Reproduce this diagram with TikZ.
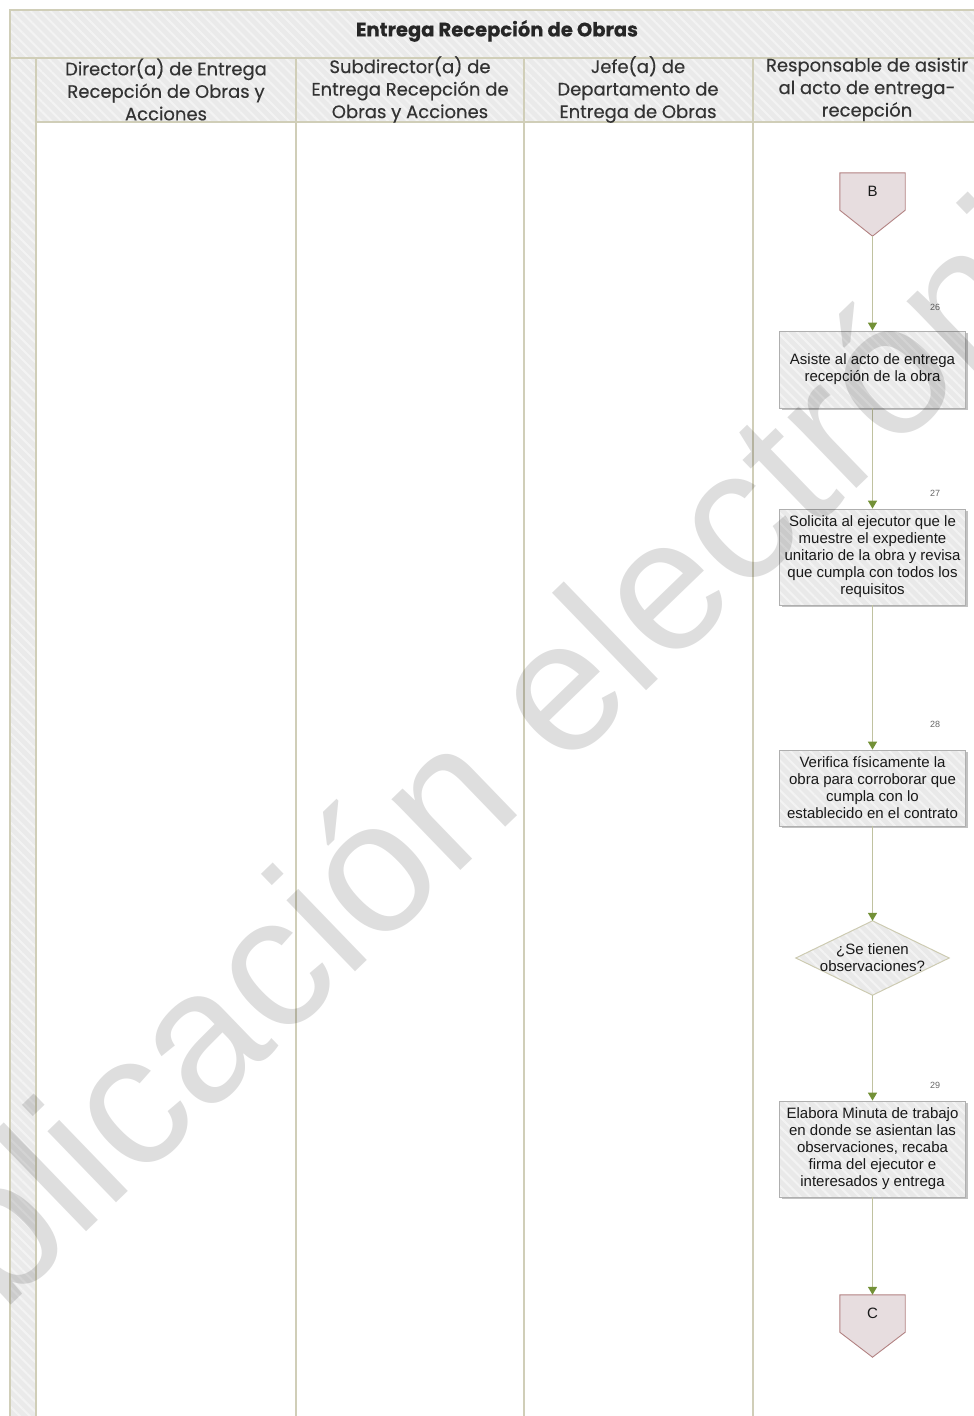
\documentclass[tikz,border=0pt]{standalone}
\usepackage{fontspec}
\setmainfont{Liberation Sans}
\newfontfamily\pop[FakeBold=0.35]{Poppins}
\usetikzlibrary{arrows.meta,shadows,backgrounds,patterns.meta}
\definecolor{lanec}{RGB}{208,206,184}
\definecolor{headfill}{RGB}{234,234,234}
\definecolor{hatchc}{RGB}{243,243,243}
\definecolor{boxfill}{RGB}{233,233,233}
\definecolor{boxdraw}{RGB}{175,175,175}
\definecolor{flowc}{RGB}{192,194,160}
\definecolor{tipc}{RGB}{115,145,55}
\definecolor{connfill}{RGB}{231,221,223}
\definecolor{conndraw}{RGB}{178,130,130}
\definecolor{diadraw}{RGB}{205,203,178}
\newcommand\bxfont{\fontsize{15}{17}\selectfont}
\begin{document}
\begin{tikzpicture}[x=1pt,y=-1pt,
  lane/.style={draw=lanec, line width=2pt},
  hatch/.style={pattern={Lines[angle=-45,distance=7pt,line width=2pt]}, pattern color=hatchc},
  hdr/.style={font=\pop\fontsize{18}{22.5}\selectfont, align=center, text=black!80, inner sep=0},
  proc/.style={drop shadow={shadow xshift=2pt, shadow yshift=-2pt, fill=black!40, opacity=0.6}, preaction={fill=boxfill}, hatch, draw=boxdraw, line width=0.8pt, minimum width=186pt, minimum height=#1, inner sep=0, align=center, font=\bxfont, text=black!90},
  hid/.style={inner sep=0, align=center, font=\bxfont, text=black!90},
  flow/.style={draw=flowc, line width=1.4pt, -{Triangle[length=8pt,width=9pt,color=tipc]}},
  num/.style={font=\fontsize{9}{9}\selectfont, text=black!60, inner sep=0},
  connshape/.style={draw=conndraw, fill=connfill, line width=0.9pt},
  diashape/.style={preaction={fill=boxfill}, hatch, draw=diadraw, line width=1pt},
]
\useasboundingbox (0,0) rectangle (974,1416);
\begin{scope}
\clip (0,0) rectangle (974,1416);
\fill[headfill] (10,10) rectangle (1000,58);
\fill[headfill] (10,58) rectangle (1000,122);
\fill[headfill] (10,122) rectangle (36,1420);
\fill[hatch] (10,10) rectangle (1000,122);
\fill[hatch] (10,122) rectangle (36,1420);
\draw[lane] (10,1420) -- (10,10) -- (1000,10);
\draw[lane] (10,58) -- (1000,58);
\draw[lane] (36,122) -- (1000,122);
\draw[lane] (36,58) -- (36,1420);
\foreach \x in {296,524,753} \draw[lane] (\x,58) -- (\x,1420);
\end{scope}

\node[font=\pop\bfseries\fontsize{19.5}{22}\selectfont, text=black!85, inner sep=0] (title) at (497,31) {Entrega Recepción de Obras};
\node[hdr] (h1) at (166,89.5) {Director(a) de Entrega\\Recepción de Obras y\\Acciones};
\node[hdr] (h2) at (410,89.5) {Subdirector(a) de\\Entrega Recepción de\\Obras y Acciones};
\node[hdr] (h3) at (638,89.5) {Jefe(a) de\\Departamento de\\Entrega de Obras};
\node[hdr] (h4) at (867,89.5) {Responsable de asistir\\al acto de entrega-\\recepción};

\node[hid, minimum width=65pt, minimum height=37pt] (B) at (872.5,191.5) {B};
\coordinate (Btip) at ([yshift=-26pt]B.south);
\node[proc=77pt] (a26) at (872.5,369.5) {Asiste al acto de entrega\\recepción de la obra};
\node[proc=96pt] (a27) at (872.5,557) {Solicita al ejecutor que le\\muestre el expediente\\unitario de la obra y revisa\\que cumpla con todos los\\requisitos};
\node[proc=76pt] (a28) at (872.5,788) {Verifica físicamente la\\obra para corroborar que\\cumpla con lo\\establecido en el contrato};
\node[hid, minimum width=153pt, minimum height=74pt] (d) at (872.5,958) {¿Se tienen\\observaciones?};
\node[proc=96pt] (a29) at (872.5,1149) {Elabora Minuta de trabajo\\en donde se asientan las\\observaciones, recaba\\firma del ejecutor e\\interesados y entrega};
\node[hid, minimum width=65pt, minimum height=37pt] (C) at (872.5,1313.5) {C};
\coordinate (Ctip) at ([yshift=-25pt]C.south);

\begin{scope}[on background layer]
\filldraw[connshape] (B.north west) -- (B.north east) -- (B.south east) -- (Btip) -- (B.south west) -- cycle;
\filldraw[connshape] (C.north west) -- (C.north east) -- (C.south east) -- (Ctip) -- (C.south west) -- cycle;
\path[diashape] (d.north) -- (d.east) -- (d.south) -- (d.west) -- cycle;
\end{scope}

\draw[flow] (Btip) -- (a26.north);
\draw[flow] (a26.south) -- (a27.north);
\draw[flow] (a27.south) -- (a28.north);
\draw[flow] (a28.south) -- (d.north);
\draw[flow] (d.south) -- (a29.north);
\draw[flow] (a29.south) -- (C.north);

\node[num] (n26) at (935,307) {26};
\node[num] (n27) at (935,493) {27};
\node[num] (n28) at (935,724) {28};
\node[num] (n29) at (935,1085) {29};

\begin{scope}
\clip (0,0) rectangle (974,1416);
\node[rotate=44, anchor=base west, inner sep=0, text=black, text opacity=0.13, font=\fontsize{187}{187}\selectfont] (wm) at (-162,1472) {Publicación electrónica};
\end{scope}
\end{tikzpicture}
\end{document}
